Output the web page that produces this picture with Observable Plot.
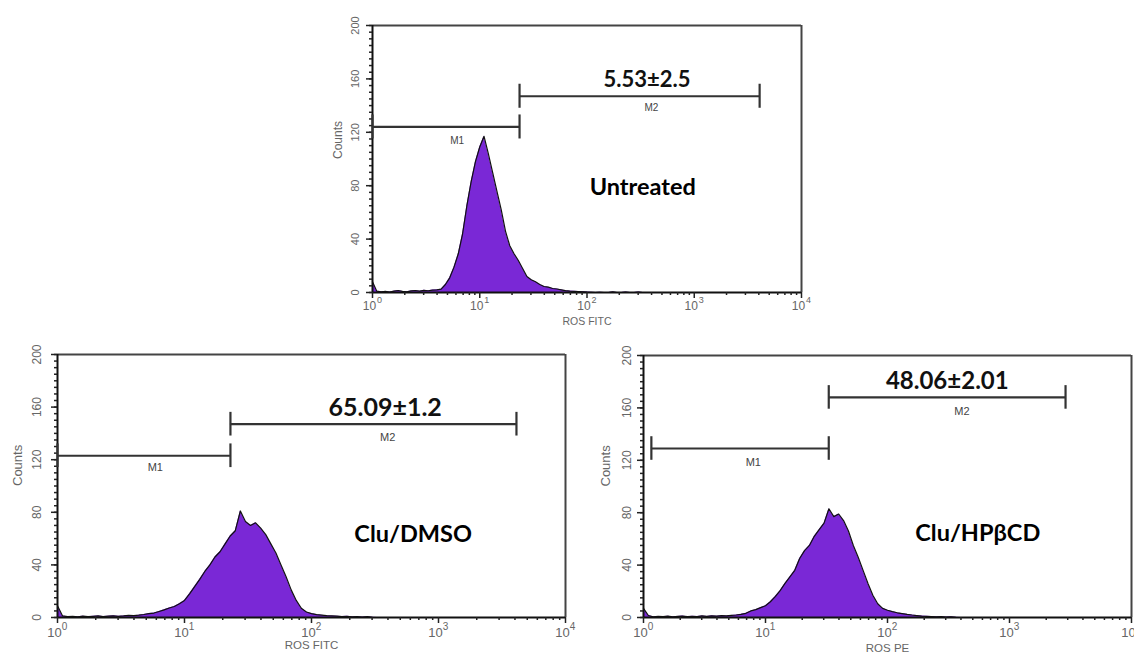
<!DOCTYPE html>
<html>
<head>
<meta charset="utf-8">
<script src="https://cdn.jsdelivr.net/npm/d3@7"></script>
<script src="https://cdn.jsdelivr.net/npm/@observablehq/plot@0.6"></script>
<style>
html, body { margin: 0; padding: 0; background: #fff; }
#wrap { position: relative; width: 1134px; height: 655px; overflow: hidden; background: #fff; }
.panel { position: absolute; }
</style>
</head>
<body>
<div id="wrap"></div>
<script>
// ---------- data ----------
// histogram channels: log10 intensity = index * logStep
const logStep = 0.04;
const untreatedCounts = [8, 1, 0.5, 0.8, 0.3, 1, 1.5, 0.8, 0.5, 1.2, 1.5, 1, 1.6, 1.3, 1.8, 2,
  2.5, 6, 11, 19, 29, 44, 65, 83, 98, 109, 117, 104, 90, 76, 62, 46, 35, 29, 24, 18, 12, 9.5, 8, 6,
  4.5, 4, 3, 2.6, 2, 1.4, 1.1, 0.9, 0.7, 0.5, 0.3, 0.2, 0, 0.2, 0, 0, 0.4, 0, 0, 0.3, 0, 0, 0.3, 0, 0];
const cluDmsoCounts = [9, 1.2, 0.6, 0.8, 0.5, 1, 0.6, 0.9, 1.2, 0.7, 1, 1.3, 0.9, 1.2, 1.6, 1.4,
  1.8, 2.3, 3, 3.4, 4.6, 5.8, 7.2, 8.4, 10.5, 13, 18, 23.5, 29, 35, 40, 46, 50, 56, 62, 66, 81, 73, 70, 72,
  68, 63, 56, 49, 40, 31, 21, 13, 7, 4.2, 3, 2.2, 1.8, 1.4, 1.2, 1, 0.7, 0.9, 0.5, 0.6, 0.3, 0.6, 0.2, 0, 0];
const cluHpbcdCounts = [7, 1.5, 0.5, 0.8, 0.6, 1, 0.5, 0.8, 1.1, 0.6, 0.9, 0.7, 1.2, 0.8, 1.3, 1,
  1.4, 1.2, 1.6, 1.9, 2.4, 3.2, 5, 6, 7.5, 9, 12, 16, 20.5, 26, 31, 36, 45, 51, 55, 62, 67, 72, 83, 77,
  79, 74, 66, 55, 46, 36, 26, 17, 10.5, 7, 5.5, 4.5, 3.6, 3, 2.4, 1.9, 1.5, 1.1, 0.9, 0.7, 0.5, 0.6, 0.4, 0.5, 0.2, 0];

const panelNames = ["Untreated", "Clu/DMSO", "Clu/HPβCD"];
const axisLabels = ["ROS FITC", "ROS FITC", "ROS PE"];
const m2Values = ["5.53±2.5", "65.09±1.2", "48.06±2.01"];
// gates: [from, to] intensity and the count level where the bar is drawn
const m1From = [1, 1, 1.16];
const m1To = [23.5, 23, 33];
const m1Level = [124, 123, 129];
const m2To = [4070, 4110, 2880];
const m2Level = [147, 147, 168];

const yMajor = [0, 40, 80, 120, 160, 200];
const yMinor = d3.range(0, 201, 5);
const xMajor = [1, 10, 100, 1000, 10000];
const xExp = ["0", "1", "2", "3", "4"];
const xMinor = [1, 10, 100, 1000].flatMap(d => [2, 3, 4, 5, 6, 7, 8, 9].map(m => m * d));

// ---------- layout ----------
const layouts = [
  { counts: untreatedCounts, left: 300, top: 0, width: 520, height: 330,
    margin: { top: 25, right: 19, bottom: 38, left: 72 },
    valueSize: 22, nameSize: 23.5, tickDx: -17, countsDx: -34, xLabelDy: 32, tickDy: 14, tickFont: 12, mSize: 10,
    valueAt: [2.56, 159], m1At: [0.79, 114], m2At: [2.6, 138], nameAt: [2.52, 79] },
  { counts: cluDmsoCounts, left: 0, top: 335, width: 580, height: 320,
    margin: { top: 19, right: 15, bottom: 38, left: 57 },
    valueSize: 25, nameSize: 23.5, tickDx: -20, countsDx: -40, xLabelDy: 31, tickDy: 15, tickFont: 13, mSize: 11,
    valueAt: [2.58, 159], m1At: [0.77, 114], m2At: [2.6, 137], nameAt: [2.8, 63] },
  { counts: cluHpbcdCounts, left: 590, top: 335, width: 544, height: 320,
    margin: { top: 20, right: 3, bottom: 38, left: 53 },
    valueSize: 24, nameSize: 23.5, tickDx: -16, countsDx: -38, xLabelDy: 34, tickDy: 15, tickFont: 13, mSize: 11,
    valueAt: [2.49, 180], m1At: [0.9, 118], m2At: [2.61, 157], nameAt: [2.74, 64] }
];

const purple = "#7a28d6";
const small = "'Liberation Sans', Arial, sans-serif";
const bold = "Lato, 'Open Sans', sans-serif";
const wrap = document.getElementById("wrap");

layouts.forEach((L, p) => {
  const hist = L.counts.map((c, i) => ({ x: 10 ** (i * logStep), y: c }));
  const gates = [
    { x1: m1From[p], x2: m1To[p], y: m1Level[p] },
    { x1: m1To[p], x2: m2To[p], y: m2Level[p] }
  ];
  const ends = gates.flatMap(g => [{ x: g.x1, y: g.y }, { x: g.x2, y: g.y }]);
  const endHalf = 9; // counts
  const chart = Plot.plot({
    width: L.width,
    height: L.height,
    marginTop: L.margin.top,
    marginRight: L.margin.right,
    marginBottom: L.margin.bottom,
    marginLeft: L.margin.left,
    style: { fontFamily: small, background: "transparent", overflow: "visible" },
    x: { type: "log", domain: [1, 10000] },
    y: { domain: [0, 200] },
    marks: [
      Plot.areaY(hist, { x: "x", y: "y", fill: purple, curve: "linear" }),
      Plot.lineY(hist, { x: "x", y: "y", stroke: "#111", strokeWidth: 1.2, curve: "linear" }),
      // frame
      Plot.ruleY([200], { stroke: "#444", strokeWidth: 2 }),
      Plot.ruleX([10000], { stroke: "#444", strokeWidth: 2 }),
      Plot.ruleX([1], { stroke: "#111", strokeWidth: 2 }),
      Plot.ruleY([0], { stroke: "#111", strokeWidth: 2.2 }),
      // ticks
      Plot.axisX(xMajor, { tickSize: 6, tickFormat: () => "", label: null, stroke: "#222", strokeWidth: 1.5 }),
      Plot.axisX(xMinor, { tickSize: 3, tickFormat: () => "", label: null, stroke: "#222", strokeWidth: 1.5 }),
      Plot.axisY(yMajor, { tickSize: 6, tickFormat: () => "", label: null, stroke: "#222", strokeWidth: 1.5 }),
      Plot.axisY(yMinor, { tickSize: 3, tickFormat: () => "", label: null, stroke: "#222", strokeWidth: 1.5 }),
      // tick labels
      Plot.text(xMajor, { x: d => d, y: 0, text: () => "10", dy: L.tickDy, dx: -3, fontSize: L.tickFont, fill: "#666" }),
      Plot.text(xMajor, { x: d => d, y: 0, text: (d, i) => xExp[i], dy: L.tickDy - 6, dx: 7, fontSize: L.tickFont - 3, fill: "#666" }),
      Plot.text(yMajor, { x: 1, y: d => d, text: d => String(d), dx: L.tickDx, rotate: -90, fontSize: L.tickFont - 1, fill: "#666" }),
      Plot.text(["Counts"], { frameAnchor: "left", dx: L.countsDx, rotate: -90, fontSize: L.tickFont, fill: "#666" }),
      Plot.text([axisLabels[p]], { frameAnchor: "bottom", dy: L.xLabelDy, fontSize: L.tickFont - 1.5, fill: "#666" }),
      // gates
      Plot.ruleY(gates, { y: "y", x1: "x1", x2: "x2", stroke: "#333", strokeWidth: 2.2 }),
      Plot.ruleX(ends, { x: "x", y1: d => d.y - endHalf, y2: d => d.y + endHalf, stroke: "#333", strokeWidth: 2.2 }),
      Plot.text(["M1"], { x: 10 ** L.m1At[0], y: L.m1At[1], fontSize: L.mSize, fill: "#444" }),
      Plot.text(["M2"], { x: 10 ** L.m2At[0], y: L.m2At[1], fontSize: L.mSize, fill: "#444" }),
      Plot.text([m2Values[p]], { x: 10 ** L.valueAt[0], y: L.valueAt[1], fontSize: L.valueSize, fontWeight: "bold", fontFamily: bold, fill: "#111" }),
      Plot.text([panelNames[p]], { x: 10 ** L.nameAt[0], y: L.nameAt[1], fontSize: L.nameSize, fontWeight: "bold", fontFamily: bold, fill: "#000" })
    ]
  });
  const div = document.createElement("div");
  div.className = "panel";
  div.style.left = L.left + "px";
  div.style.top = L.top + "px";
  div.style.width = L.width + "px";
  div.style.height = L.height + "px";
  div.appendChild(chart);
  wrap.appendChild(div);
});
</script>
</body>
</html>
